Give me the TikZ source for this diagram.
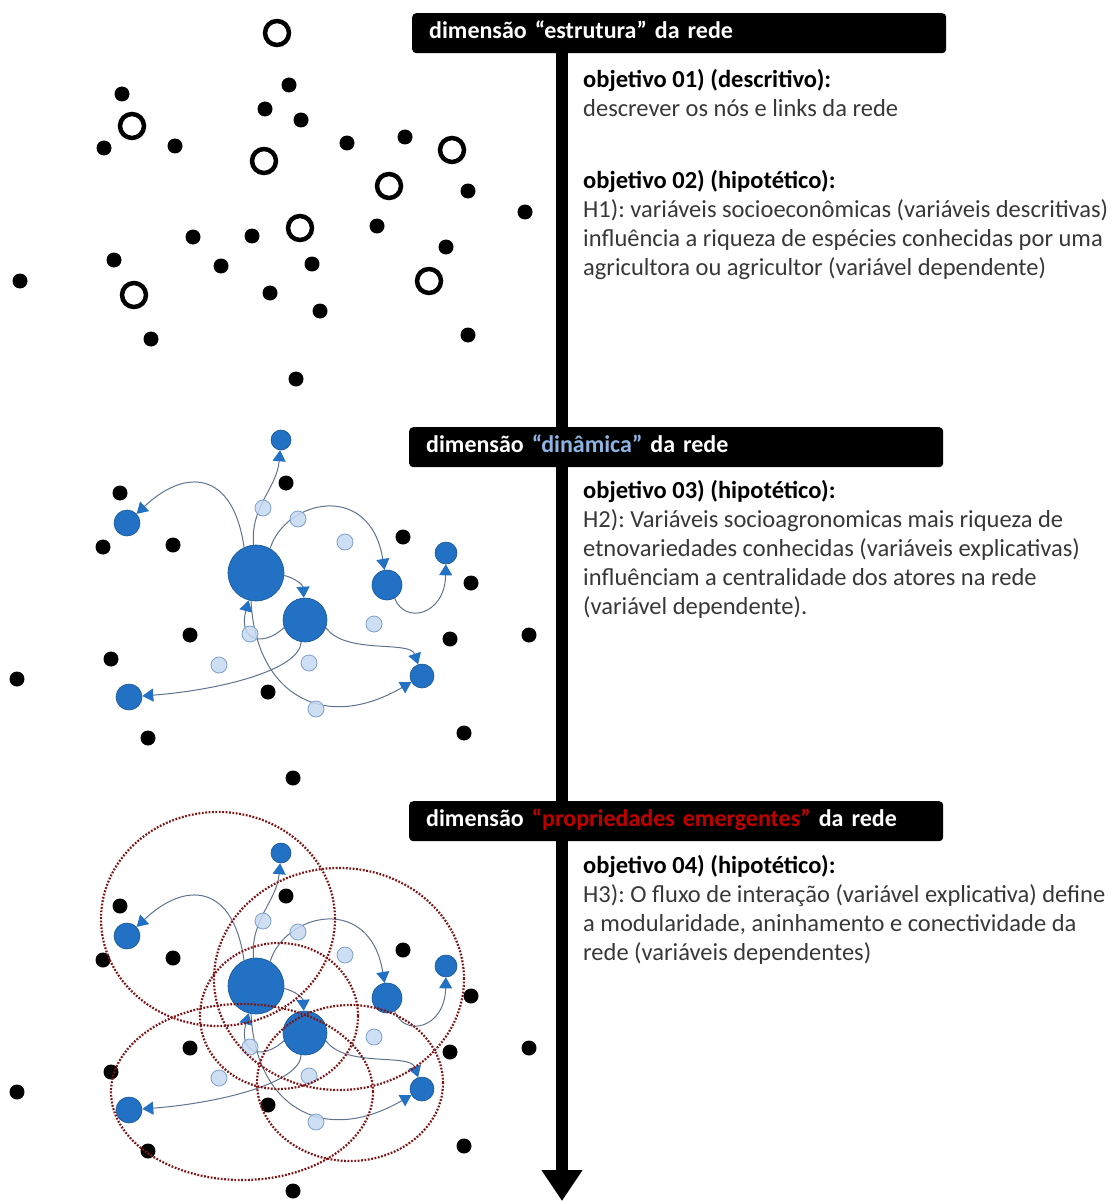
\documentclass[tikz,border=0pt]{standalone}
\usepackage{fontspec}
\setmainfont{Carlito}
\usepackage{tikz}
\usetikzlibrary{arrows.meta, backgrounds}
\definecolor{NetBlue}{RGB}{34,113,196}
\definecolor{PaleBlue}{RGB}{197,217,241}
\definecolor{PaleEdge}{RGB}{125,160,205}
\definecolor{EdgeGray}{RGB}{95,115,145}
\definecolor{ModRed}{RGB}{128,20,20}
\definecolor{DinBlue}{RGB}{141,180,226}
\definecolor{PropRed}{RGB}{192,0,0}
\definecolor{TextGray}{RGB}{55,55,55}
\newcommand{\objhead}[1]{{\color{black}\bfseries #1}}
\frenchspacing

\begin{document}
\begin{tikzpicture}[x=1pt, y=1pt,
          blk/.style={circle, fill=black, minimum size=15pt, inner sep=0pt},
          ring/.style={circle, draw=black, line width=4.5pt, minimum size=24pt, inner sep=0pt},
          act/.style={circle, fill=NetBlue, draw=NetBlue!75!black, line width=0.6pt, inner sep=0pt},
          pale/.style={circle, fill=PaleBlue, draw=PaleEdge, line width=0.8pt, minimum size=16pt,
                       inner sep=0pt, fill opacity=0.85},
          flow/.style={draw=EdgeGray, line width=1pt,
                       -{Triangle[width=13pt, length=11pt, fill=NetBlue, color=NetBlue]}},
          module/.style={draw=ModRed, line width=2.2pt, dash pattern=on 1.8pt off 1.6pt},
          dimbar/.style={anchor=north west, fill=black, rounded corners=4pt, text=white,
                         font=\bfseries\fontsize{24}{28}\selectfont, minimum width=534pt,
                         minimum height=40pt, text width=500pt, align=left, inner xsep=17pt,
                         text height=16pt, text depth=5pt},
          txt/.style={anchor=base west, align=left, inner sep=0pt, text=TextGray,
                      font=\fontsize{24.5}{29}\selectfont},
          spine/.style={line width=12pt, -{Triangle[width=39pt, length=31pt]}}
        ]
        \useasboundingbox (0,0) rectangle (1115,-1201);

        % estrutura: atores isolados
        \foreach \x/\y [count=\i] in {122/-94, 289/-85, 265/-109, 301/-120, 104/-148, 175/-146,
                  347/-143, 405/-137, 468/-191, 525/-212, 377/-226, 193/-237, 252/-236, 446/-247,
                  114/-260, 221/-266, 312/-264, 20/-281, 270/-293, 320/-311, 151/-339, 468/-335,
                  296/-379}
          \node[blk] (s\i) at (\x,\y) {};
        \foreach \x/\y [count=\i] in {277/-33, 132/-126, 264/-161, 389/-186, 452/-150, 300/-228,
                  134/-295, 429/-281}
          \node[ring] (r\i) at (\x,\y) {};

        % dinamica e propriedades emergentes: mesma rede
        \foreach \p/\dy in {d/0, e/-413} {
          \begin{scope}[yshift=\dy pt]
            \foreach \x/\y [count=\i] in {120/-493, 286/-483, 103/-547, 173/-545, 403/-537,
                      471/-583, 190/-635, 450/-639, 529/-635, 111/-659, 17/-679, 268/-692,
                      148/-738, 464/-733, 293/-778}
              \node[blk] (\p-k\i) at (\x,\y) {};

            \node[act, minimum size=56pt] (\p-A)   at (256,-573) {};
            \node[act, minimum size=44pt] (\p-B)   at (305,-620) {};
            \node[act, minimum size=20pt] (\p-top) at (281,-440) {};
            \node[act, minimum size=26pt] (\p-nw)  at (127,-523) {};
            \node[act, minimum size=30pt] (\p-mid) at (387,-585) {};
            \node[act, minimum size=22pt] (\p-ne)  at (446,-553) {};
            \node[act, minimum size=24pt] (\p-se)  at (422,-676) {};
            \node[act, minimum size=26pt] (\p-sw)  at (129,-697) {};

            \draw[flow] (\p-A) to[out=95, in=265] (\p-top);
            \draw[flow] (\p-A.115) .. controls (233,-470) and (185,-468) .. (\p-nw);
            \draw[flow] (\p-A.60) .. controls (285,-500) and (370,-480) .. (\p-mid);
            \draw[flow] (\p-mid.-60) .. controls (405,-625) and (445,-615) .. (\p-ne);
            \draw[flow] (\p-A.-5) .. controls (295,-578) and (303,-585) .. (\p-B);
            \draw[flow] (\p-B.200) .. controls (262,-648) and (238,-640) .. (\p-A);
            \draw[flow] (\p-B.-20) .. controls (345,-655) and (410,-640) .. (\p-se);
            \draw[flow] (\p-A.-100) .. controls (255,-690) and (320,-735) .. (\p-se);
            \draw[flow] (\p-B.-100) .. controls (300,-670) and (220,-690) .. (\p-sw);

            \foreach \x/\y [count=\i] in {263/-508, 298/-519, 345/-542, 374/-624, 250/-634,
                      219/-665, 309/-663, 316/-709}
              \node[pale] (\p-l\i) at (\x,\y) {};
          \end{scope}
        }

        % modulos
        \draw[module] (218,-919) ellipse [x radius=117, y radius=107];
        \draw[module] (339,-979) ellipse [x radius=125, y radius=111];
        \draw[module] (279,-1016) ellipse [x radius=79, y radius=73];
        \draw[module] (242,-1092) ellipse [x radius=131, y radius=88];
        \draw[module] (350,-1083) ellipse [x radius=93, y radius=78];

        % dimensoes
        \node[dimbar] (bar1) at (412,-13) {dimensão “estrutura” da rede};
        \node[dimbar] (bar2) at (409,-427) {dimensão {\color{DinBlue}“dinâmica”} da rede};
        \node[dimbar] (bar3) at (409,-801)
              {dimensão {\color{PropRed}“propriedades emergentes”} da rede};

        \coordinate (tip) at (562,-1201);
        \begin{pgfonlayer}{background}
          \draw[spine] (bar1.south -| tip) -- (tip);
        \end{pgfonlayer}

        % base = linha de base da ultima linha
        \node[txt] (obj1) at (583,-117)
              {\objhead{objetivo 01) (descritivo):}\\descrever os nós e links da rede};
        \node[txt] (obj2) at (583,-275)
              {\objhead{objetivo 02) (hipotético):}\\
               H1): variáveis socioeconômicas (variáveis descritivas)\\
               influência a riqueza de espécies conhecidas por uma\\
               agricultora ou agricultor (variável dependente)};
        \node[txt] (obj3) at (583,-614)
              {\objhead{objetivo 03) (hipotético):}\\
               H2): Variáveis socioagronomicas mais riqueza de\\
               etnovariedades conhecidas (variáveis explicativas)\\
               influênciam a centralidade dos atores na rede\\
               (variável dependente).};
        \node[txt] (obj4) at (583,-960)
              {\objhead{objetivo 04) (hipotético):}\\
               H3): O fluxo de interação (variável explicativa) define\\
               a modularidade, aninhamento e conectividade da\\
               rede (variáveis dependentes)};
      \end{tikzpicture}
\end{document}
